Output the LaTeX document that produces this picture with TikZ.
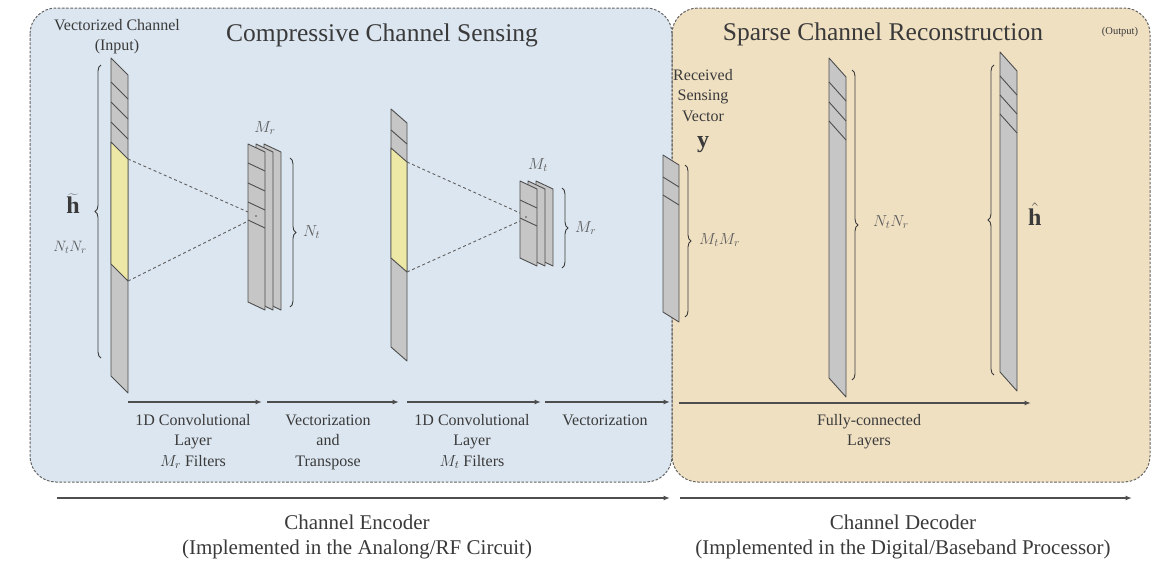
\documentclass[tikz,border=0pt]{standalone}
\usepackage{fix-cm}
\usepackage{fontspec}
\setmainfont{Liberation Serif}
\usetikzlibrary{decorations.pathreplacing,arrows.meta}

\definecolor{panelblue}{RGB}{220,230,240}
\definecolor{panelorange}{RGB}{240,224,194}
\definecolor{slabgray}{RGB}{198,198,198}
\definecolor{slabedge}{RGB}{78,78,78}
\definecolor{hiyellow}{RGB}{238,232,166}
\definecolor{inkgray}{RGB}{58,58,58}
\definecolor{mathgray}{RGB}{92,92,92}
\definecolor{framegray}{RGB}{100,100,100}

% slab: x, y-top (left edge), y-bottom (left edge), width, slant
\newcommand\slab[5]{\filldraw[slab] (#1,#2) -- ({#1+#4},{#2+#5}) -- ({#1+#4},{#3+#5}) -- (#1,#3) -- cycle;}
% stripe across a slab: x, y (left edge), width, slant
\newcommand\stripe[4]{\draw[slab] (#1,#2) -- ({#1+#3},{#2+#4});}
% highlighted window of a slab: x, y-top, y-bottom, width, slant
\newcommand\hilite[5]{\filldraw[slab,fill=hiyellow] (#1,#2) -- ({#1+#4},{#2+#5}) -- ({#1+#4},{#3+#5}) -- (#1,#3) -- cycle;}

\begin{document}
\begin{tikzpicture}[x=1pt,y=-1pt,
  panel/.style={draw=framegray,line width=1pt,dash pattern=on 2.6pt off 1.6pt,rounded corners=26pt},
  slab/.style={draw=slabedge,fill=slabgray,line width=0.9pt,line join=round},
  convline/.style={draw=slabedge!90,line width=0.9pt,dash pattern=on 3pt off 2.6pt},
  steparrow/.style={draw=slabedge,line width=1.3pt,-{Latex[length=6.5pt,width=5pt]}},
  bracestyle/.style={draw=inkgray,line width=0.9pt,decorate,decoration={brace,amplitude=6pt}},
  title/.style={text=inkgray,font=\fontsize{25.5}{30}\selectfont,inner sep=0pt},
  label/.style={text=inkgray,font=\fontsize{16}{20.5}\selectfont,align=center,inner sep=0pt},
  caption/.style={text=inkgray,font=\fontsize{21}{25}\selectfont,align=center,inner sep=0pt},
  mathlab/.style={text=mathgray,font=\fontsize{16}{20}\selectfont,inner sep=0pt},
  vecsym/.style={text=inkgray,font=\fontsize{24}{28}\selectfont,inner sep=0pt}]
\useasboundingbox (0,0) rectangle (1168,563);

% ---- panels ----
\fill[panelblue,rounded corners=26pt] (30,8) rectangle (672,482);
\fill[panelorange,rounded corners=26pt] (672,8) rectangle (1150,482);
\draw[panel] (30,8) rectangle (672,482);
\draw[panel] (672,8) rectangle (1150,482);

\node[title,anchor=base] (enc-title) at (382,41) {Compressive Channel Sensing};
\node[title,anchor=base] (dec-title) at (883,40) {Sparse Channel Reconstruction};
\node[text=inkgray,font=\fontsize{10.5}{12}\selectfont,anchor=base,inner sep=0pt] (out-tag) at (1120,34) {(Output)};
% multi-line nodes are placed by the baseline of their last line
\node[label,anchor=base] (in-tag) at (117,50.5) {Vectorized Channel\\(Input)};
\node[label,anchor=base] (rx-tag) at (703,121) {Received\\Sensing\\Vector};
\node[vecsym,anchor=base] (y-sym) at (703,147) {$\mathbf{y}$};

% ---- input vector ----
\slab{111}{58}{376}{17}{17}
\stripe{111}{82}{17}{17}
\stripe{111}{102}{17}{17}
\stripe{111}{122}{17}{17}
\hilite{111}{142}{264}{17}{17}
\draw[bracestyle] (101,358) -- (101,65);
\node[vecsym] (h-in) at (73,204) {$\widetilde{\mathbf{h}}$};
\node[mathlab,font=\fontsize{15}{18}\selectfont] (nn-in) at (70,247) {$N_tN_r$};

% ---- first convolution: receptive field ----
\coordinate (in-yt) at (128,159);
\coordinate (in-yb) at (128,281);
\coordinate (f1-a) at (248,212);
\coordinate (f1-b) at (248,221);
\draw[convline] (in-yt) -- (f1-a);
\draw[convline] (in-yb) -- (f1-b);

% ---- first filter bank (M_r sheets) ----
\slab{264}{144}{302}{17}{8}
\slab{256}{144}{302}{17}{8}
\slab{248}{144}{302}{17}{8}
\stripe{248}{163}{17}{8}
\stripe{248}{183}{17}{8}
\stripe{248}{202}{17}{8}
\stripe{248}{220}{17}{8}
\fill[slabedge] (256,216) circle (0.9);
\node[mathlab] (mr-1) at (265,128) {$M_r$};
\draw[bracestyle] (290,158) -- (290,307);
\node[mathlab,anchor=west] (nt-1) at (303,232) {$N_t$};

% ---- vectorized and transposed ----
\slab{391}{109}{347}{16}{14}
\stripe{391}{130}{16}{14}
\hilite{391}{148}{258}{16}{14}

\coordinate (mid-yt) at (407,162);
\coordinate (mid-yb) at (407,272);
\coordinate (f2-a) at (520,213);
\coordinate (f2-b) at (520,221);
\draw[convline] (mid-yt) -- (f2-a);
\draw[convline] (mid-yb) -- (f2-b);

% ---- second filter bank (M_t sheets) ----
\slab{536}{181}{258}{17}{8}
\slab{528}{181}{258}{17}{8}
\slab{520}{181}{258}{17}{8}
\stripe{520}{200}{17}{8}
\stripe{520}{218}{17}{8}
\fill[slabedge] (526,217) circle (0.9);
\node[mathlab] (mt-2) at (538,165) {$M_t$};
\draw[bracestyle] (562,188) -- (562,268);
\node[mathlab,anchor=west] (mr-2) at (575,228) {$M_r$};

% ---- received sensing vector ----
\slab{663}{155}{312}{16}{10}
\stripe{663}{177}{16}{10}
\stripe{663}{195}{16}{10}
\draw[bracestyle] (685,165) -- (685,317);
\node[mathlab,anchor=west] (mm-y) at (699,240) {$M_tM_r$};

% ---- fully-connected decoder ----
\slab{829}{58}{378}{17}{19}
\stripe{829}{82}{17}{19}
\stripe{829}{102}{17}{19}
\stripe{829}{121}{17}{19}
\draw[bracestyle] (852,70) -- (852,380);
\node[mathlab,anchor=west] (nn-d) at (873,222) {$N_tN_r$};

\slab{1000}{52}{372}{17}{19}
\stripe{1000}{76}{17}{19}
\stripe{1000}{95}{17}{19}
\stripe{1000}{114}{17}{19}
\draw[bracestyle] (994,375) -- (994,65);
\node[vecsym,anchor=west] (h-out) at (1028,214) {$\hat{\mathbf{h}}$};

% ---- processing steps ----
\coordinate (s0) at (128,402);
\coordinate (s1) at (262,402);
\coordinate (s2) at (267,402);
\coordinate (s3) at (399,402);
\coordinate (s4) at (407,402);
\coordinate (s5) at (541,402);
\coordinate (s6) at (545,402);
\coordinate (s7) at (670,402);
\coordinate (s8) at (679,403);
\coordinate (s9) at (1031,403);
\draw[steparrow] (s0) -- (s1);
\draw[steparrow] (s2) -- (s3);
\draw[steparrow] (s4) -- (s5);
\draw[steparrow] (s6) -- (s7);
\draw[steparrow] (s8) -- (s9);

\node[label,anchor=base] (lab1) at (193,466) {1D Convolutional\\Layer\\$M_r$ Filters};
\node[label,anchor=base] (lab2) at (328,466) {Vectorization\\and\\Transpose};
\node[label,anchor=base] (lab3) at (472,466) {1D Convolutional\\Layer\\$M_t$ Filters};
\node[label,anchor=base] (lab4) at (605,425) {Vectorization};
\node[label,anchor=base] (lab5) at (869,445.5) {Fully-connected\\Layers};

% ---- encoder / decoder spans ----
\coordinate (e0) at (57,498);
\coordinate (e1) at (670,498);
\coordinate (d0) at (680,498);
\coordinate (d1) at (1132,498);
\draw[steparrow] (e0) -- (e1);
\draw[steparrow] (d0) -- (d1);
\node[caption,anchor=base] (enc-cap) at (357,554) {Channel Encoder\\(Implemented in the Analong/RF Circuit)};
\node[caption,anchor=base] (dec-cap) at (903,554) {Channel Decoder\\(Implemented in the Digital/Baseband Processor)};
\end{tikzpicture}
\end{document}
